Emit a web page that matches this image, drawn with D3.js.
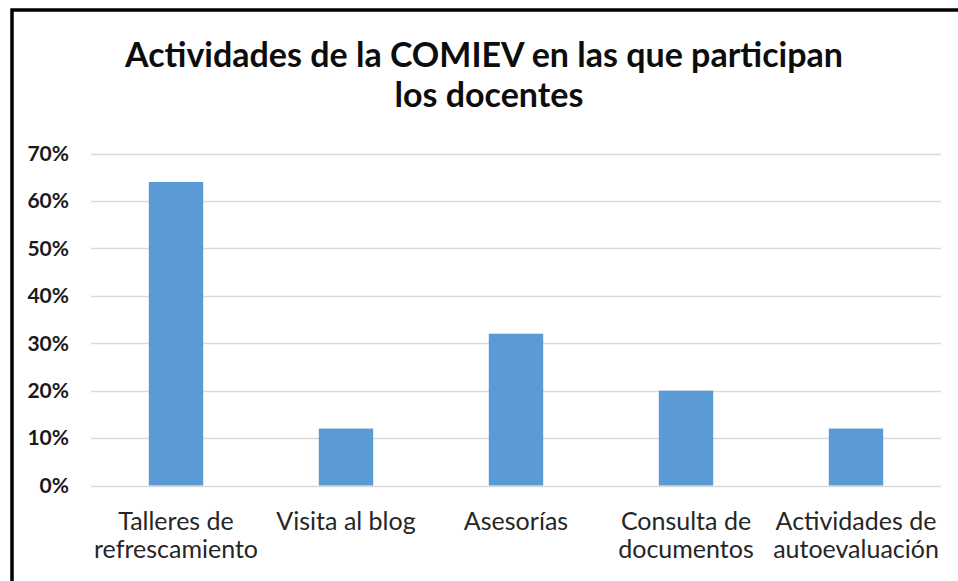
<!DOCTYPE html>
<html>
<head>
<meta charset="utf-8">
<script src="https://cdn.jsdelivr.net/npm/d3@7"></script>
<style>
  body { margin: 0; background: #fff; }
  svg { display: block; }
</style>
</head>
<body>
<div id="chart"></div>
<script>
const categories = [
    ['Talleres de', 'refrescamiento'],
    ['Visita al blog'],
    ['Asesorías'],
    ['Consulta de', 'documentos'],
    ['Actividades de', 'autoevaluación']
];
const values = [0.64, 0.12, 0.32, 0.20, 0.12];
const yTicks = [0, 0.1, 0.2, 0.3, 0.4, 0.5, 0.6, 0.7];
const titleLines = ['Actividades de la COMIEV en las que participan', 'los docentes'];

const W = 958, H = 581;
const font = 'Lato, "Open Sans", sans-serif';

const svg = d3.select('#chart')
    .append('svg')
    .attr('width', W)
    .attr('height', H);

// chart frame (cropped on right and bottom)
svg.append('rect')
    .attr('x', 12)
    .attr('y', 10)
    .attr('width', W + 20)
    .attr('height', H + 20)
    .attr('fill', '#fff')
    .attr('stroke', '#000')
    .attr('stroke-width', 3.5);

const x = d3.scaleBand()
    .domain(d3.range(categories.length))
    .range([91, 941])
    .paddingInner(0.68)
    .paddingOuter(0.34);

const y = d3.scaleLinear()
    .domain([0, 0.7])
    .range([485.5, 153.5]);

// gridlines
svg.append('g')
    .selectAll('line')
    .data(yTicks)
    .join('line')
    .attr('x1', 91)
    .attr('x2', 941)
    .attr('y1', d => Math.round(y(d)) + 0.5)
    .attr('y2', d => Math.round(y(d)) + 0.5)
    .attr('stroke', '#d9d9d9')
    .attr('stroke-width', 1.5);

// y labels
svg.append('g')
    .selectAll('text')
    .data(yTicks)
    .join('text')
    .attr('x', 69)
    .attr('y', d => y(d))
    .attr('dy', '0.35em')
    .attr('text-anchor', 'end')
    .attr('font-family', font)
    .attr('font-weight', 'bold')
    .attr('font-size', 21)
    .attr('fill', '#1a1a1a')
    .text(d3.format('.0%'));

// bars
svg.append('g')
    .selectAll('rect')
    .data(values)
    .join('rect')
    .attr('x', (d, i) => x(i))
    .attr('width', x.bandwidth())
    .attr('y', d => y(d))
    .attr('height', d => y(0) - y(d))
    .attr('fill', '#5b9bd5');

// category labels
const cat = svg.append('g')
    .selectAll('text')
    .data(categories)
    .join('text')
    .attr('x', (d, i) => x(i) + x.bandwidth() / 2)
    .attr('y', 530)
    .attr('text-anchor', 'middle')
    .attr('font-family', font)
    .attr('font-size', 25)
    .attr('fill', '#262626');

cat.selectAll('tspan')
    .data(d => d)
    .join('tspan')
    .attr('x', function () { return this.parentNode.getAttribute('x'); })
    .attr('dy', (d, i) => i === 0 ? 0 : 28)
    .text(d => d);

// title
svg.append('g')
    .selectAll('text')
    .data(titleLines)
    .join('text')
    .attr('x', (d, i) => i === 0 ? 484 : 489)
    .attr('y', (d, i) => 67 + i * 40)
    .attr('text-anchor', 'middle')
    .attr('font-family', font)
    .attr('font-weight', 'bold')
    .attr('font-size', 34)
    .attr('fill', '#0d0d0d')
    .text(d => d);
</script>
</body>
</html>
